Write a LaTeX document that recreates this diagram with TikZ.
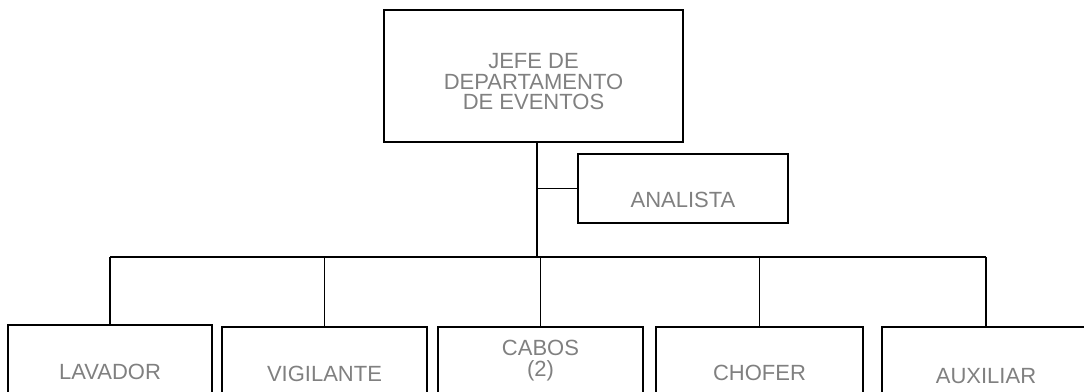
\documentclass[tikz,border=0pt]{standalone}
\usepackage{fontspec}
\setmainfont{Liberation Sans}
\usetikzlibrary{positioning}
\definecolor{gristexto}{RGB}{128,128,128}
\tikzstyle{caja}=[draw=black,line width=1.2pt,inner sep=0pt,anchor=north,text=gristexto,font=\fontsize{16.5pt}{15.5pt}\selectfont]
\tikzstyle{linea}=[draw=black,line width=1.2pt]

\begin{document}
\begin{tikzpicture}[x=0.75pt,y=-0.75pt]
\useasboundingbox (0,0) rectangle (1084,392);
% jefe y analista
\node[caja,minimum width=299*0.75pt,text height=59*0.75pt,text depth=73*0.75pt] (jefe) at (533.5,9) {\begin{tabular}[t]{@{}c@{}}JEFE DE\\[-1pt]DEPARTAMENTO\\[-1pt]DE EVENTOS\end{tabular}};
\node[caja,minimum width=210*0.75pt,text height=54*0.75pt,text depth=15*0.75pt] (analista) at (683,153) {ANALISTA};
% puestos
\node[caja,minimum width=204*0.75pt,text height=55*0.75pt,text depth=70*0.75pt] (lavador) at (110,324) {LAVADOR};
\node[caja,minimum width=205*0.75pt,text height=55*0.75pt,text depth=70*0.75pt] (vigilante) at (324.5,326) {VIGILANTE};
\node[caja,minimum width=205*0.75pt,text height=29*0.75pt,text depth=90*0.75pt] (cabos) at (540.5,326) {\begin{tabular}[t]{@{}c@{}}CABOS\\[-1pt](2)\end{tabular}};
\node[caja,minimum width=207*0.75pt,text height=54*0.75pt,text depth=70*0.75pt] (chofer) at (759.5,326) {CHOFER};
\node[caja,minimum width=208*0.75pt,text height=57*0.75pt,text depth=70*0.75pt] (auxiliar) at (986,326) {AUXILIAR};
% lineas
\coordinate (bus) at (537,257);
\draw[linea] (jefe.south -| bus) -- (bus); \draw[linea] (bus |- analista.west) -- (analista.west);
\draw[linea] (lavador.north |- bus) -- (auxiliar.north |- bus);
\draw[linea] (lavador.north |- bus) -- (lavador.north); \draw[linea] (vigilante.north |- bus) -- (vigilante.north); \draw[linea] (cabos.north |- bus) -- (cabos.north); \draw[linea] (chofer.north |- bus) -- (chofer.north); \draw[linea] (auxiliar.north |- bus) -- (auxiliar.north);
\end{tikzpicture}
\end{document}
